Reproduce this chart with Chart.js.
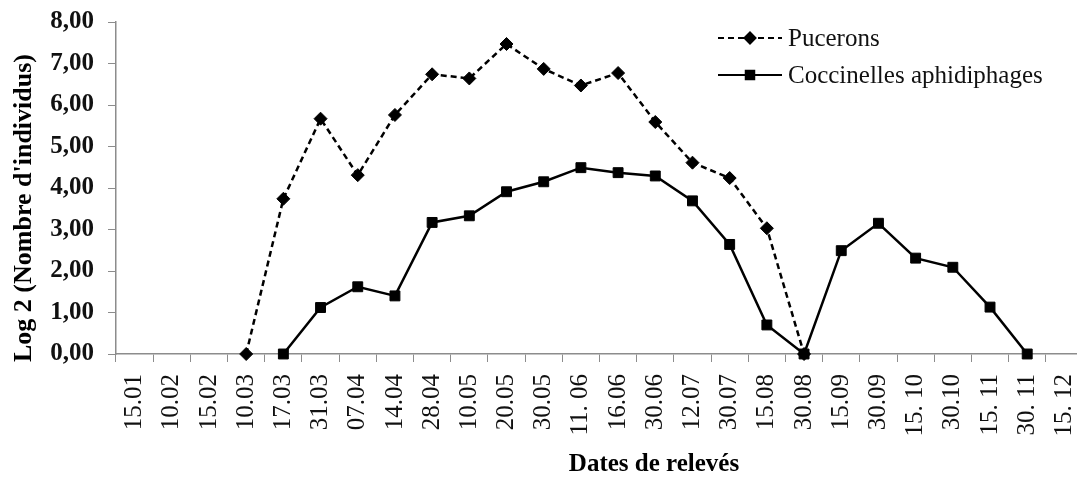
<!DOCTYPE html>
<html>
<head>
<meta charset="utf-8">
<script src="https://cdn.jsdelivr.net/npm/chart.js@4"></script>
<style>
  html, body { margin: 0; padding: 0; background: #fff; overflow: hidden; }
  #wrap { width: 1077px; height: 478px; overflow: hidden; }
</style>
</head>
<body>
<div id="wrap"><canvas id="graphReleves" width="1091" height="478"></canvas></div>
<script>
// dates de relevés
let dates = ["15.01","10.02","15.02","10.03","17.03","31.03","07.04","14.04","28.04","10.05","20.05","30.05","11. 06",
    "16.06","30.06","12.07","30.07","15.08","30.08","15.09","30.09","15. 10","30.10","15. 11","30. 11","15. 12"];
// log2 (nombre d'individus)
let pucerons = [null,null,null,0,3.74,5.67,4.31,5.76,6.74,6.64,7.47,6.87,6.47,6.77,5.59,4.61,4.24,3.03,0,
    null,null,null,null,null,null,null];
let coccinelles = [null,null,null,null,0,1.12,1.62,1.40,3.17,3.33,3.91,4.15,4.49,4.37,4.29,3.69,2.64,0.70,0,
    2.49,3.15,2.31,2.09,1.13,0,null];
let yTicks = [0,1,2,3,4,5,6,7,8];
let serif = "'Liberation Serif', 'Times New Roman', serif";

// legende + titres des axes, dessinés dans la zone du graphique
let decor = {
    id: "decor",
    afterDraw(chart){
        let ctx = chart.ctx;
        let area = chart.chartArea;
        ctx.save();
        ctx.fillStyle = "#000";
        ctx.textAlign = "center";
        ctx.textBaseline = "middle";
        ctx.font = "bold 25px " + serif;
        ctx.fillText("Dates de relevés", area.left + 538, area.bottom + 111);
        ctx.font = "bold 26px " + serif;
        ctx.translate(24, area.top + 186);
        ctx.rotate(-Math.PI/2);
        ctx.fillText("Log 2 (Nombre d'individus)", 0, 0);
        ctx.restore();

        ctx.save();
        ctx.font = "25px " + serif;
        ctx.textBaseline = "middle";
        ctx.textAlign = "left";
        chart.data.datasets.forEach((ds, i) => {
            let x0 = area.left + 602;
            let y = area.top + 16 + i*37;
            ctx.strokeStyle = "#000";
            ctx.lineWidth = 2;
            ctx.setLineDash(ds.borderDash || []);
            ctx.beginPath();
            ctx.moveTo(x0, y);
            ctx.lineTo(x0 + 64, y);
            ctx.stroke();
            ctx.setLineDash([]);
            ctx.fillStyle = "#000";
            Chart.helpers.drawPoint(ctx, {pointStyle: ds.pointStyle, radius: ds.pointRadius - 1, borderWidth: 1}, x0 + 32, y);
            ctx.fillStyle = "#111";
            ctx.fillText(ds.label, x0 + 70, y + 1);
        });
        ctx.restore();
    }
};

let myCanvas = document.getElementById("graphReleves").getContext('2d');
let graph = new Chart(myCanvas, {
    type:"line",
    data:{
        labels:dates,
        datasets:[{
            label:"Pucerons",
            data:pucerons,
            borderColor:"#000",
            backgroundColor:"#000",
            borderWidth:2.5,
            borderDash:[6,4],
            pointStyle:"rectRot",
            pointRadius:6.5,
            pointBorderWidth:1,
            clip:false
        },{
            label:"Coccinelles aphidiphages",
            data:coccinelles,
            borderColor:"#000",
            backgroundColor:"#000",
            borderWidth:2.5,
            pointStyle:"rect",
            pointRadius:7,
            pointBorderWidth:1,
            clip:false
        }]
    },
    options:{
        responsive:false,
        animation:false,
        layout:{ padding:{ top:22, left:0, right:0, bottom:0 } },
        plugins:{
            legend:{ display:false },
            tooltip:{ enabled:false }
        },
        scales:{
            x:{
                type:"category",
                offset:true,
                grid:{ display:true, drawOnChartArea:false, offset:true, tickLength:8, color:"#8c8c8c", lineWidth:1 },
                border:{ color:"#8c8c8c", width:1.5 },
                ticks:{ autoSkip:false, maxRotation:90, minRotation:90, padding:12, color:"#111",
                    font:{ family:serif, size:25 } },
                afterFit(scale){
                    scale.height = 124;
                    scale.paddingLeft = 0;
                    scale.paddingRight = 0;
                }
            },
            y:{
                min:0,
                max:8,
                afterBuildTicks(scale){ scale.ticks = yTicks.map(v => ({value:v})); },
                grid:{ display:true, drawOnChartArea:false, tickLength:8, color:"#8c8c8c", lineWidth:1 },
                border:{ color:"#8c8c8c", width:1.5 },
                ticks:{ padding:14, color:"#111", font:{ family:serif, size:25, weight:"bold" },
                    callback:v => v.toFixed(2).replace(".", ",") },
                afterFit(scale){
                    scale.width = 116;
                    scale.paddingTop = 0;
                    scale.paddingBottom = 0;
                }
            }
        }
    },
    plugins:[decor]
});
</script>
</body>
</html>
